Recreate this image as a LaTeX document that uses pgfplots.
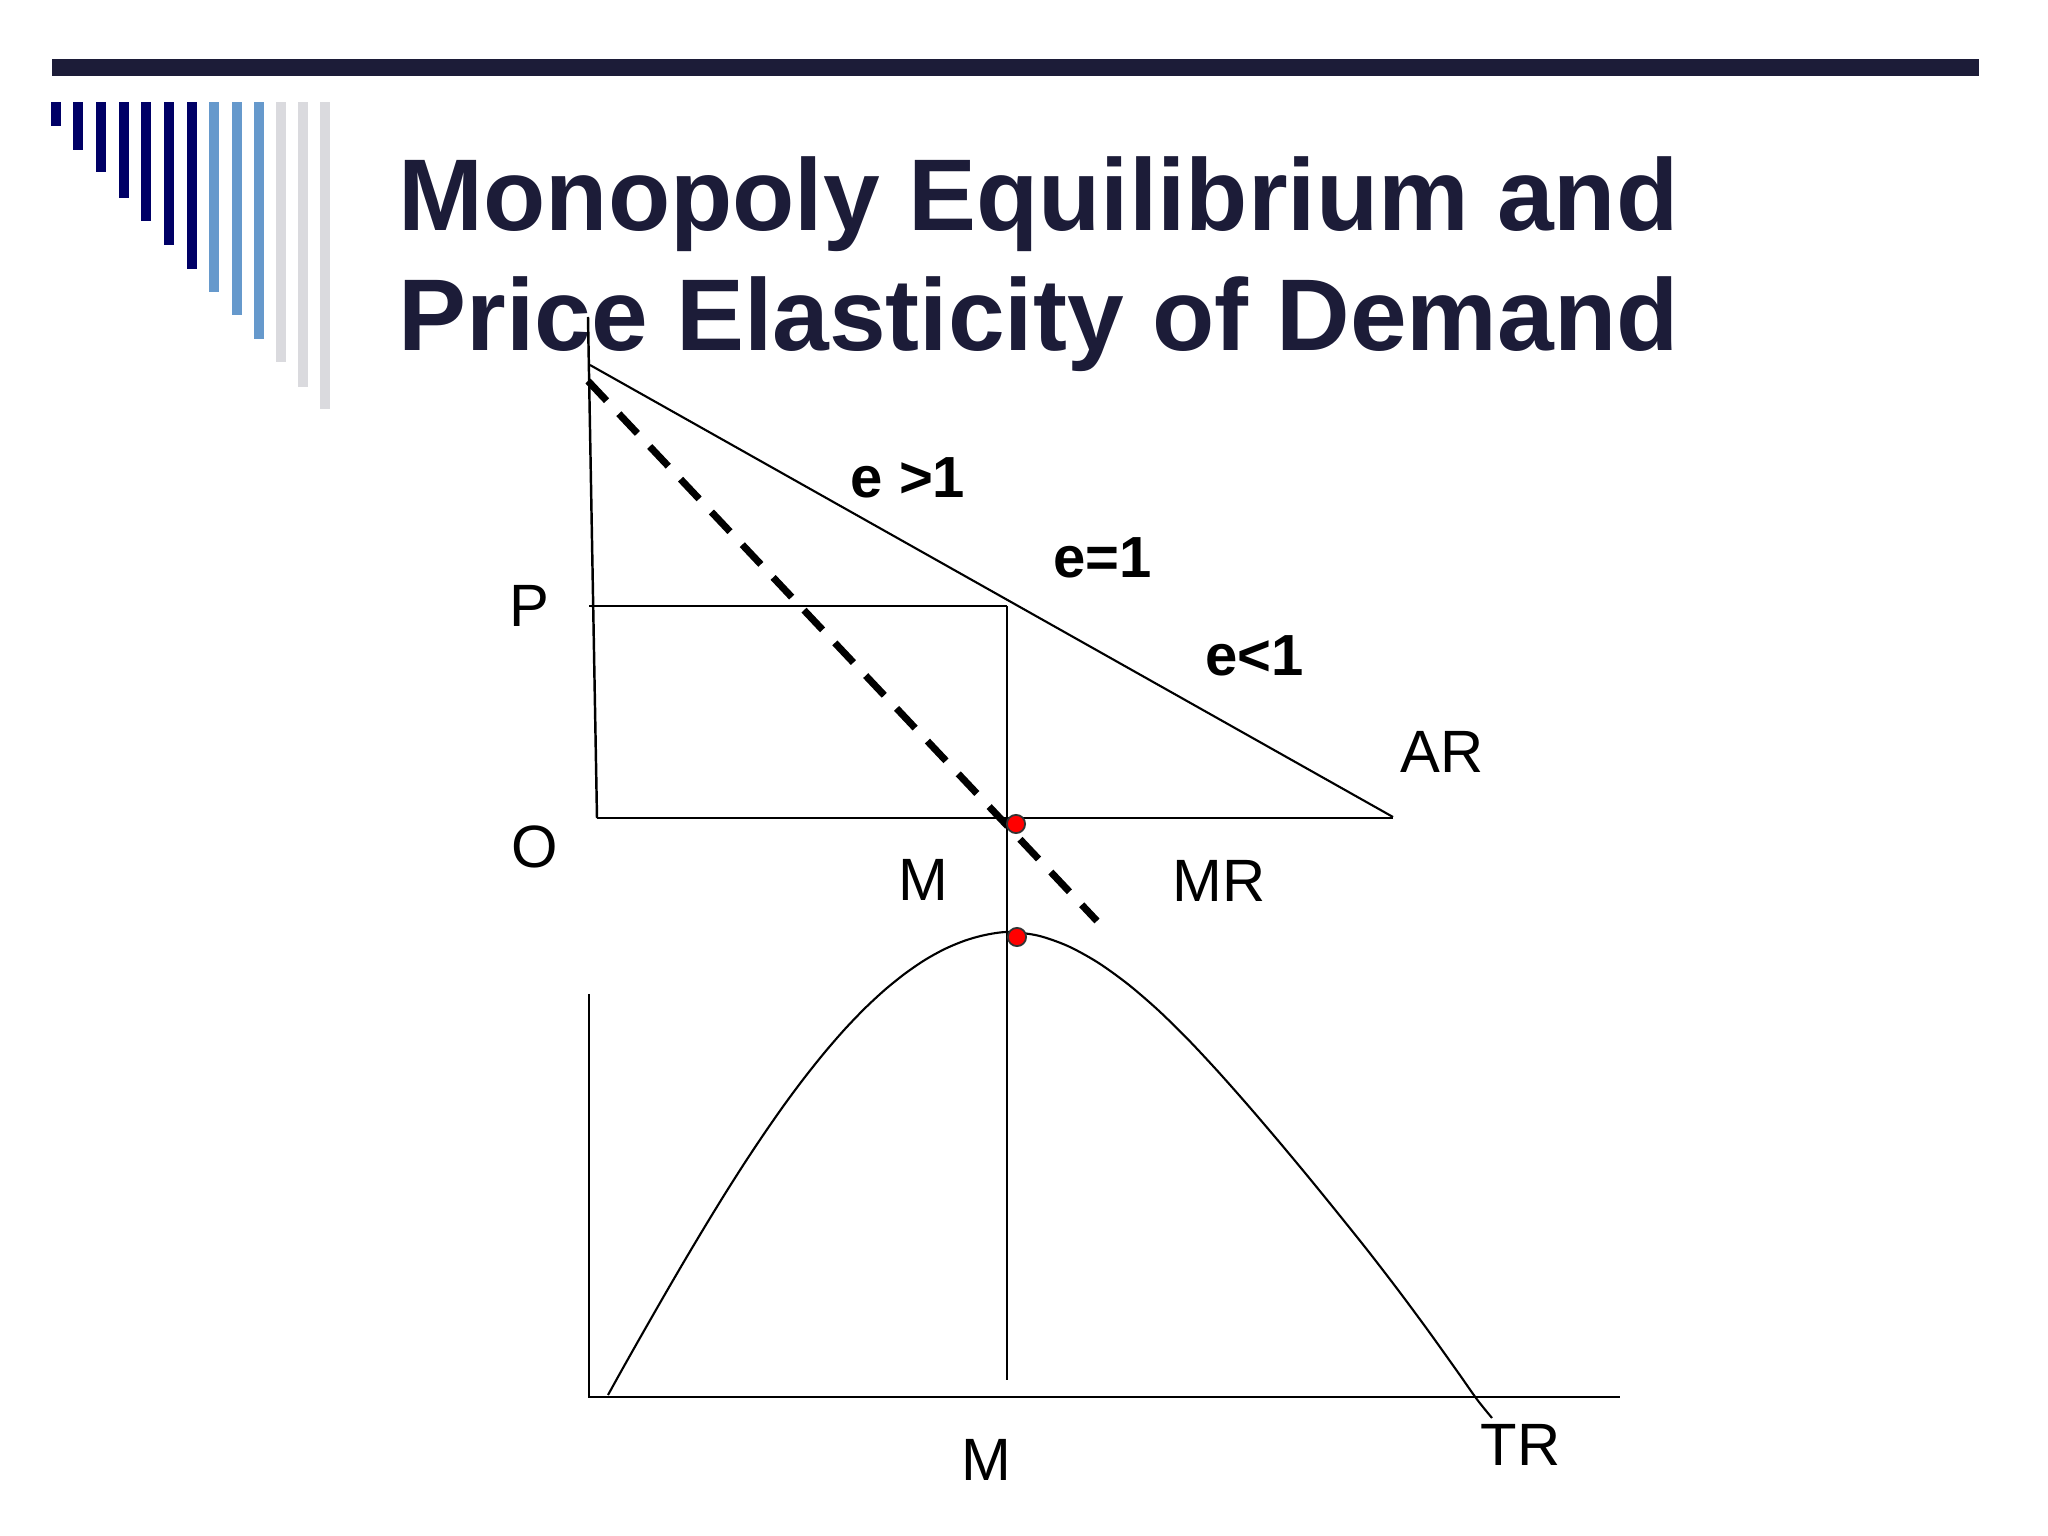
\documentclass[border=0pt]{standalone}
\usepackage{pgfplots}
\pgfplotsset{compat=1.18}
\usepackage{fontspec}
\setmainfont{Liberation Sans}
\definecolor{titlenavy}{RGB}{28,28,56}
\definecolor{barnavy}{RGB}{0,0,102}
\definecolor{barblue}{RGB}{102,153,204}
\definecolor{bargray}{RGB}{218,218,222}
\begin{document}
\begin{tikzpicture}
\begin{axis}[
  scale only axis, width=20.48cm, height=15.36cm,
  xmin=0, xmax=2048, ymin=0, ymax=1536, y dir=reverse,
  hide axis, clip=false,
]
% invisible frame to fix the limits
\addplot[draw=none] coordinates {(0,0) (2048,1536)};
% top bar
\addplot[titlenavy, line width=4.84pt] coordinates {(52,67.5) (1979,67.5)};
% decorative bars
\addplot[barnavy, line width=2.85pt] coordinates {(56,102.3) (56,126.3)};
\addplot[barnavy, line width=2.85pt] coordinates {(78.3,102.3) (78.3,150.3)};
\addplot[barnavy, line width=2.85pt] coordinates {(101.3,102.3) (101.3,172.3)};
\addplot[barnavy, line width=2.85pt] coordinates {(124,102.3) (124,197.7)};
\addplot[barnavy, line width=2.85pt] coordinates {(146.3,102.3) (146.3,221)};
\addplot[barnavy, line width=2.85pt] coordinates {(169,102.3) (169,244.7)};
\addplot[barnavy, line width=2.85pt] coordinates {(191.7,102.3) (191.7,269.3)};
\addplot[barblue, line width=2.85pt] coordinates {(214.3,102.3) (214.3,292)};
\addplot[barblue, line width=2.85pt] coordinates {(237,102.3) (237,315)};
\addplot[barblue, line width=2.85pt] coordinates {(259,102.3) (259,339)};
\addplot[bargray, line width=2.85pt] coordinates {(281,102.3) (281,362.3)};
\addplot[bargray, line width=2.85pt] coordinates {(303.3,102.3) (303.3,386.7)};
\addplot[bargray, line width=2.85pt] coordinates {(325.3,102.3) (325.3,409)};
% title
\node[anchor=base west, inner sep=0pt, text=titlenavy, font=\fontsize{29}{34}\selectfont\bfseries] at (axis cs:398,231) {Monopoly Equilibrium and};
\node[anchor=base west, inner sep=0pt, text=titlenavy, font=\fontsize{29}{34}\selectfont\bfseries] at (axis cs:398,351) {Price Elasticity of Demand};
% upper diagram
\addplot[black, line width=0.7pt] coordinates {(588,317) (597,818)};
\addplot[black, line width=0.7pt] coordinates {(597,818) (1393,818)};
\addplot[black, line width=0.6pt] coordinates {(590,365) (1393,817)};
\addplot[black, line width=0.6pt] coordinates {(589,606) (1007,606)};
\addplot[black, line width=0.6pt] coordinates {(1007,606) (1007,1380)};
\addplot[black, line width=2pt, dash pattern=on 7.7pt off 5.1pt] coordinates {(588,381) (1097,921)};
% lower diagram
\addplot[black, line width=0.6pt] coordinates {(589,994) (589,1397)};
\addplot[black, line width=0.7pt] coordinates {(588,1397) (1620,1397)};
\addplot[black, line width=0.6pt, smooth] coordinates {
 (608,1395) (625,1364.4) (645,1329.1) (665,1294.2) (685,1259.9) (705,1226.4)
 (725,1193.8) (745,1162.4) (765,1132.4) (785,1103.8) (805,1077.0) (825,1052.0)
 (845,1029.0) (865,1008.2) (885,989.7) (905,973.6) (925,959.9) (945,948.9)
 (965,940.6) (985,935.0) (1008,932)
 (1038,935.6) (1068,946.1) (1098,962.6) (1128,984.2) (1158,1010.0) (1188,1039.4)
 (1218,1071.5) (1248,1105.4) (1278,1140.5) (1308,1176.5) (1338,1213.4)
 (1368,1250.9) (1398,1289.9) (1428,1330.4) (1458,1372.4) (1477,1399.4) (1492,1418)};
% red points
\addplot[only marks, mark=*, mark size=2.6pt, mark options={fill=red, draw=black!80, line width=0.5pt}] coordinates {(1016,824) (1017,937)};
% labels
\node[anchor=base west, inner sep=0pt, font=\fontsize{16.5}{20}\selectfont\bfseries] at (axis cs:850,498) {e >1};
\node[anchor=base west, inner sep=0pt, font=\fontsize{16.5}{20}\selectfont\bfseries] at (axis cs:1053,578) {e=1};
\node[anchor=base west, inner sep=0pt, font=\fontsize{16.5}{20}\selectfont\bfseries] at (axis cs:1205,676) {e<1};
\node[anchor=base west, inner sep=0pt, font=\fontsize{17}{21}\selectfont] at (axis cs:1400,773) {AR};
\node[anchor=base west, inner sep=0pt, font=\fontsize{17}{21}\selectfont] at (axis cs:509,627) {P};
\node[anchor=base west, inner sep=0pt, font=\fontsize{17}{21}\selectfont] at (axis cs:511,868) {O};
\node[anchor=base west, inner sep=0pt, font=\fontsize{17}{21}\selectfont] at (axis cs:898,901) {M};
\node[anchor=base west, inner sep=0pt, font=\fontsize{17}{21}\selectfont] at (axis cs:1172,902) {MR};
\node[anchor=base west, inner sep=0pt, font=\fontsize{17}{21}\selectfont] at (axis cs:961,1481) {M};
\node[anchor=base west, inner sep=0pt, font=\fontsize{17}{21}\selectfont] at (axis cs:1480,1466) {TR};
\end{axis}
\end{tikzpicture}
\end{document}
